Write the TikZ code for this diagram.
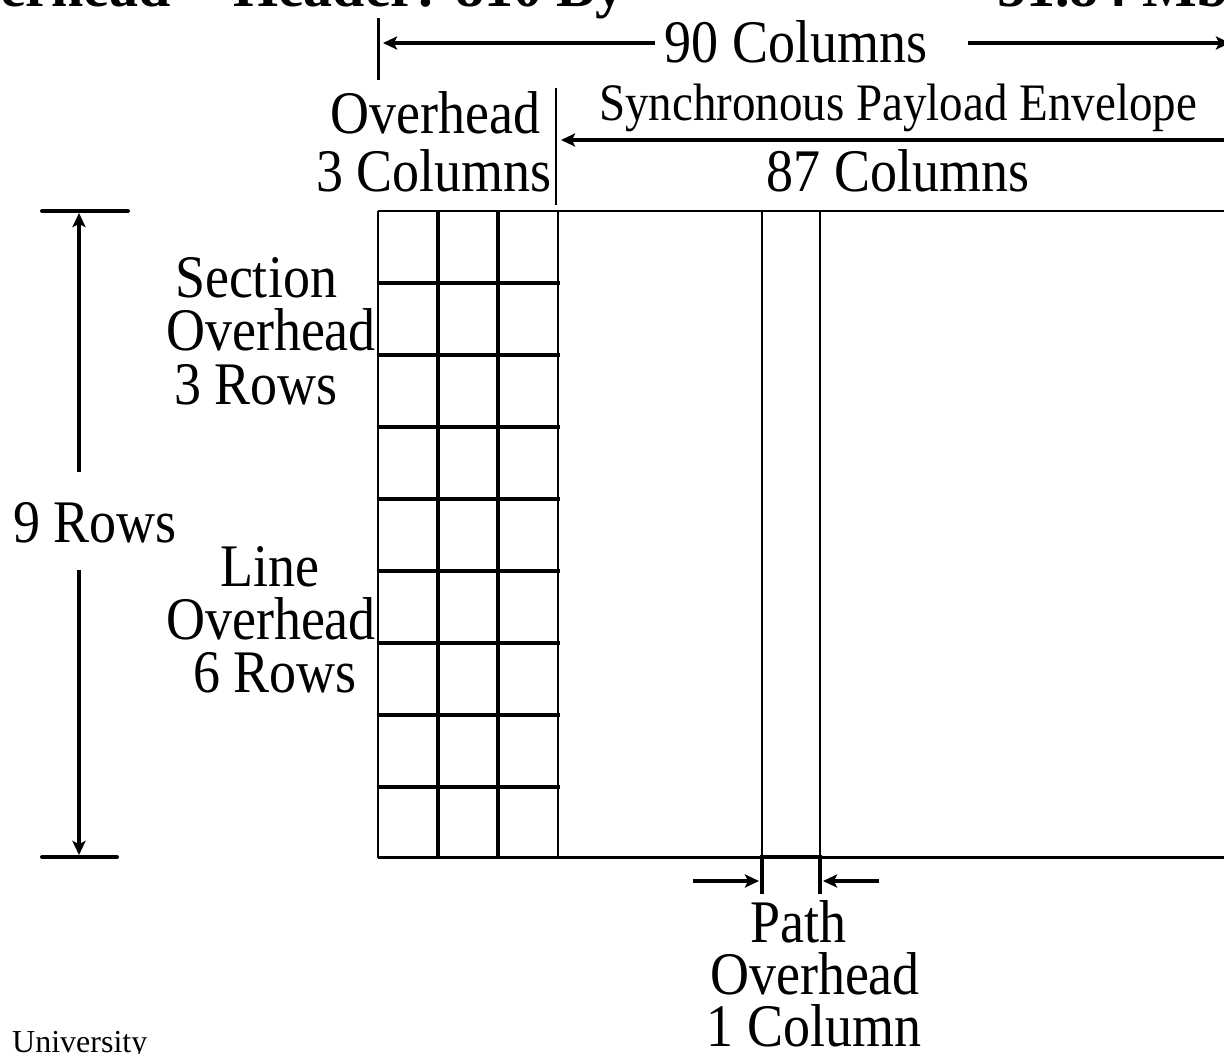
\documentclass[tikz,border=0pt]{standalone}
\usepackage{fontspec}
\setmainfont{Liberation Serif}
\usetikzlibrary{arrows.meta}
\newcommand{\stretchtxt}[1]{\scalebox{1}[1.12]{#1}}
\tikzset{
  lbl/.style={font=\fontsize{54}{60}\selectfont, inner sep=0pt, anchor=base},
  slbl/.style={font=\fontsize{47}{52}\selectfont, inner sep=0pt, anchor=base},
  title/.style={font=\fontsize{58}{62}\selectfont\bfseries, inner sep=0pt},
  thin line/.style={line width=2.2pt},
  thick line/.style={line width=4pt},
  arr/.style={line width=4pt, -{Stealth[length=14pt,width=13pt,inset=3pt]}},
}
\begin{document}
\begin{tikzpicture}[x=1pt,y=-1pt]
\useasboundingbox (0,0) rectangle (1224,1053);
% title fragments (cut by the page)
\node[title, anchor=base west] (t1) at (0,6) {erhead = Header: 810 By};
\node[title, anchor=base west] (t2) at (997,6) {51.84 Mb};
% 90 columns
\coordinate (c90l) at (383,43);
\coordinate (c90r) at (1230,43);
\node[lbl, inner xsep=8pt] (n90) at (796,62) {\stretchtxt{90 Columns}};
\draw[line width=3pt] (378,18) -- (378,80);
\draw[arr] (655,43) -- (c90l);
\draw[arr] (968,43) -- (c90r);
% overhead 3 columns
\node[lbl, anchor=base east] (oh1) at (541,133) {\stretchtxt{Overhead}};
\node[lbl, anchor=base east] (oh2) at (552,191) {\stretchtxt{3 Columns}};
\draw[thin line] (556,88) -- (556,205);
% SPE
\node[slbl] (spe) at (898,120) {\stretchtxt{Synchronous Payload Envelope}};
\node[lbl] (c87) at (898,191) {\stretchtxt{87 Columns}};
\coordinate (c87l) at (561,140);
\draw[arr] (1230,140) -- (c87l);
% frame
\draw[thin line] (378,211) -- (1226,211);
\draw[line width=3pt] (378,857) -- (1226,857);
\draw[thin line] (378,211) -- (378,858);
\draw[thin line] (558,211) -- (558,858);
\draw[thick line] (438,211) -- (438,858);
\draw[thick line] (498,211) -- (498,858);
\foreach \yy in {283,355,427,499,571,643,715,787}
  \draw[thick line] (377,\yy) -- (560,\yy);
% path overhead
\draw[thin line] (762,211) -- (762,857);
\draw[thin line] (820,211) -- (820,857);
\draw[thick line] (762,857) -- (820,857);
\draw[thick line] (762,855) -- (762,894);
\draw[thick line] (820,855) -- (820,894);
\coordinate (poL) at (759,881);
\coordinate (poR) at (823,881);
\draw[arr] (693,881) -- (poL);
\draw[arr] (879,881) -- (poR);
\node[lbl] (p1) at (798,942) {\stretchtxt{Path}};
\node[lbl] (p2) at (815,994) {\stretchtxt{Overhead}};
\node[lbl] (p3) at (814,1046) {\stretchtxt{1 Column}};
% rows
\draw[thick line, line cap=round] (42,211) -- (128,211);
\draw[thick line, line cap=round] (42,857) -- (117,857);
\coordinate (rt) at (79,213);
\coordinate (rb) at (79,855);
\draw[arr] (79,472) -- (rt);
\draw[arr] (79,570) -- (rb);
\node[lbl] (r9) at (95,542) {\stretchtxt{9 Rows}};
\node[lbl] (s1) at (256,297) {\stretchtxt{Section}};
\node[lbl] (s2) at (271,350) {\stretchtxt{Overhead}};
\node[lbl] (s3) at (256,404) {\stretchtxt{3 Rows}};
\node[lbl] (l1) at (270,586) {\stretchtxt{Line}};
\node[lbl] (l2) at (271,639) {\stretchtxt{Overhead}};
\node[lbl] (l3) at (275,692) {\stretchtxt{6 Rows}};
% footer
\node[font=\fontsize{32}{36}\selectfont, inner sep=0pt, anchor=base west] (uni) at (12,1052) {University};
\end{tikzpicture}
\end{document}
